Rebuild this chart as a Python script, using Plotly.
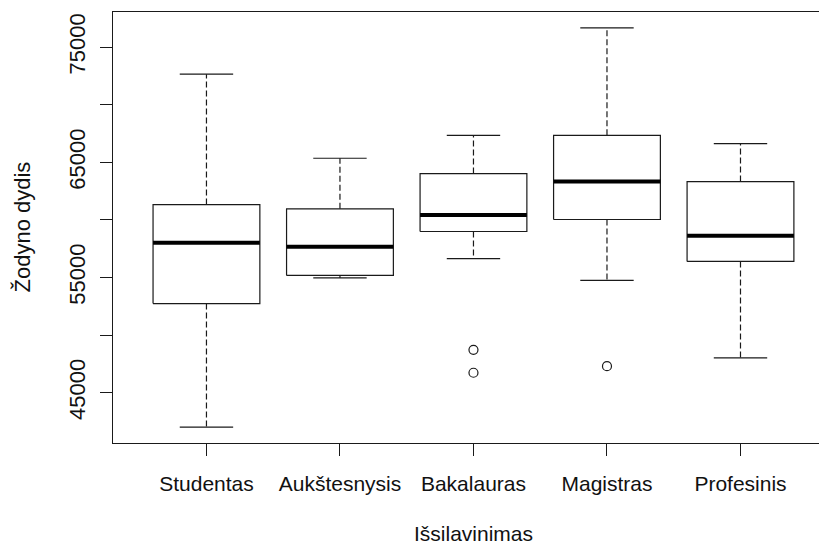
import plotly.graph_objects as go

# ---- data ----
categories = ["Studentas", "Aukštesnysis", "Bakalauras", "Magistras", "Profesinis"]
lower_whisker = [42010, 54957, 56629, 54749, 48024]
q1 = [52730, 55182, 58995, 60035, 56395]
median = [58016, 57669, 60416, 63328, 58622]
q3 = [61334, 60962, 64021, 67348, 63328]
upper_whisker = [72660, 65355, 67348, 76672, 66620]
outlier_cat = ["Bakalauras", "Bakalauras", "Magistras"]
outlier_val = [48718, 46724, 47296]

y_tick_vals = [45000, 50000, 55000, 60000, 65000, 70000, 75000]
y_tick_text = ["45000", "", "55000", "", "65000", "", "75000"]

x_title = "Išsilavinimas"
y_title = "Žodyno dydis"

# ---- geometry helpers (style) ----
BOX_HALF = 0.4
STAPLE_HALF = 0.2
LINE_COL = "#1a1a1a"
TXT_COL = "#111111"
FONT = "Liberation Sans, Arial, sans-serif"

pos = {c: i + 1 for i, c in enumerate(categories)}

box_x, box_y = [], []
med_x, med_y = [], []
wh_x, wh_y = [], []
st_x, st_y = [], []
for c, lo, a, m, b, hi in zip(categories, lower_whisker, q1, median, q3, upper_whisker):
    x = pos[c]
    box_x += [x - BOX_HALF, x + BOX_HALF, x + BOX_HALF, x - BOX_HALF, x - BOX_HALF, None]
    box_y += [a, a, b, b, a, None]
    med_x += [x - BOX_HALF, x + BOX_HALF, None]
    med_y += [m, m, None]
    wh_x += [x, x, None, x, x, None]
    wh_y += [b, hi, None, a, lo, None]
    st_x += [x - STAPLE_HALF, x + STAPLE_HALF, None, x - STAPLE_HALF, x + STAPLE_HALF, None]
    st_y += [hi, hi, None, lo, lo, None]

fig = go.Figure()
fig.add_trace(go.Scatter(x=wh_x, y=wh_y, mode="lines",
                         line=dict(color=LINE_COL, width=1.2, dash="6px,3px"),
                         hoverinfo="skip", showlegend=False))
fig.add_trace(go.Scatter(x=st_x, y=st_y, mode="lines",
                         line=dict(color=LINE_COL, width=1.2),
                         hoverinfo="skip", showlegend=False))
fig.add_trace(go.Scatter(x=box_x, y=box_y, mode="lines",
                         line=dict(color=LINE_COL, width=1.2),
                         hoverinfo="skip", showlegend=False))
fig.add_trace(go.Scatter(x=med_x, y=med_y, mode="lines",
                         line=dict(color="#000000", width=4),
                         hoverinfo="skip", showlegend=False))
fig.add_trace(go.Scatter(x=[pos[c] for c in outlier_cat], y=outlier_val, mode="markers",
                         marker=dict(symbol="circle-open", size=9, color=LINE_COL,
                                     line=dict(color=LINE_COL, width=1.2)),
                         hoverinfo="skip", showlegend=False))

all_vals = lower_whisker + upper_whisker + outlier_val
dmin, dmax = min(all_vals), max(all_vals)
pad = 0.04 * (dmax - dmin)

n = len(categories)
fig.update_layout(
    width=819, height=538,
    margin=dict(l=105, r=0, t=4, b=103),
    paper_bgcolor="white", plot_bgcolor="white",
    font=dict(family=FONT, color=TXT_COL, size=21),
    xaxis=dict(
        range=[0.3, 5.648],
        tickmode="array", tickvals=[pos[c] for c in categories], ticktext=categories,
        showgrid=False, zeroline=False,
        showline=True, linecolor=LINE_COL, linewidth=1.2, mirror=True,
        ticks="outside", ticklen=12, tickwidth=1.2, tickcolor=LINE_COL,
        tickfont=dict(size=21, family=FONT, color=TXT_COL),
        ticklabelstandoff=10,
    ),
    yaxis=dict(
        range=[dmin - pad, dmax + pad],
        tickmode="array", tickvals=y_tick_vals, ticktext=y_tick_text,
        showgrid=False, zeroline=False,
        showline=True, linecolor=LINE_COL, linewidth=1.2, mirror=False,
        ticks="outside", ticklen=12, tickwidth=1.2, tickcolor=LINE_COL,
        tickangle=-90,
        tickfont=dict(size=22, family=FONT, color=TXT_COL),
        ticklabelstandoff=6,
    ),
    annotations=[
        dict(text=x_title, xref="x", x=(1 + n) / 2, yref="paper", y=0,
             yshift=-90, xanchor="center", yanchor="middle", showarrow=False,
             font=dict(size=21, family=FONT, color=TXT_COL)),
        dict(text=y_title, xref="paper", x=0, xshift=-91, yref="paper", y=0.5,
             xanchor="center", yanchor="middle", textangle=-90, showarrow=False,
             font=dict(size=22, family=FONT, color=TXT_COL)),
    ],
)

fig.write_html("out.html")
